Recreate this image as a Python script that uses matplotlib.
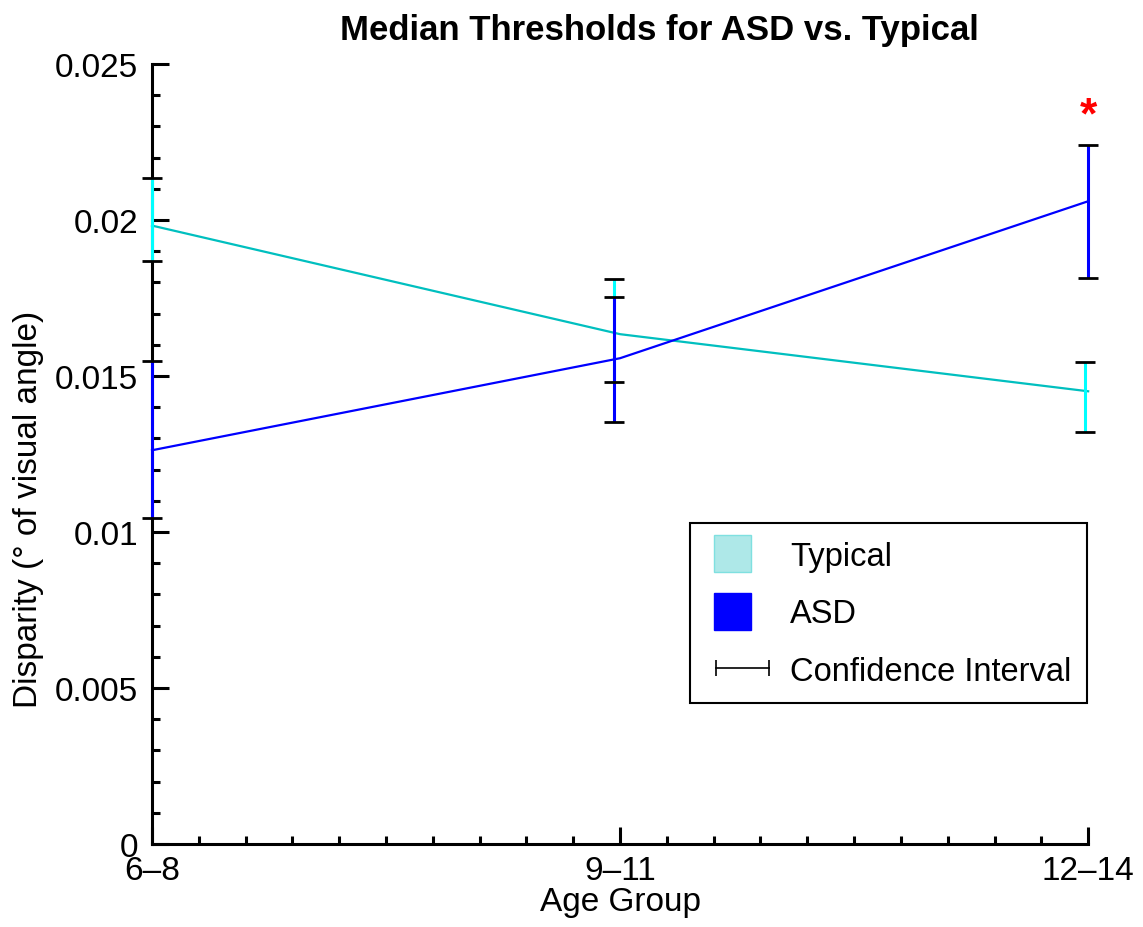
import matplotlib
matplotlib.use("Agg")
import matplotlib.pyplot as plt
import matplotlib.patches as mpatches
from matplotlib.lines import Line2D
from matplotlib.legend_handler import HandlerPatch
from matplotlib.ticker import MultipleLocator, FuncFormatter

plt.rcParams["font.family"] = ["Liberation Sans", "DejaVu Sans"]

# median thresholds per age group, with confidence interval bounds
groups = ["6–8", "9–11", "12–14"]
typical = [0.01982, 0.01634, 0.01451]
typical_lo = [0.01870, 0.01481, 0.01319]
typical_hi = [0.02134, 0.01811, 0.01545]
asd = [0.01262, 0.01557, 0.02060]
asd_lo = [0.01044, 0.01354, 0.01814]
asd_hi = [0.01547, 0.01754, 0.02239]
significant = [False, False, True]

x = [1, 2, 3]
# error bars are nudged a little so overlapping ones stay visible
typ_shift = [0.0, -0.014, -0.006]
asd_shift = [0.0, -0.014, 0.0]

line_cyan = "#00bfbf"
bar_cyan = "#00ffff"

fig = plt.figure(figsize=(11.43, 9.28), dpi=100)
ax = fig.add_axes([0.133, 0.0894, 0.819, 0.8406])

ax.plot(x, typical, color=line_cyan, lw=1.6, zorder=3, clip_on=False)
ax.plot(x, asd, color="blue", lw=1.6, zorder=3, clip_on=False)


def draw_ci(xs, lo, hi, color):
    ax.vlines(xs, lo, hi, color=color, lw=2.2, zorder=4, clip_on=False)
    ax.plot(xs, lo, "_", color="black", ms=14, mew=2, zorder=5, clip_on=False)
    ax.plot(xs, hi, "_", color="black", ms=14, mew=2, zorder=5, clip_on=False)


draw_ci([a + b for a, b in zip(x, typ_shift)], typical_lo, typical_hi, bar_cyan)
draw_ci([a + b for a, b in zip(x, asd_shift)], asd_lo, asd_hi, "blue")

for xi, hi, sig in zip(x, asd_hi, significant):
    if sig:
        ax.text(xi, hi + 0.00095, "*", color="red", fontsize=32, fontweight="bold",
                ha="center", va="center")

ax.set_xlim(1, 3)
ax.set_ylim(0, 0.025)
ax.set_xticks(x)
ax.set_xticklabels(groups)
ax.xaxis.set_minor_locator(MultipleLocator(0.1))
ax.yaxis.set_major_locator(MultipleLocator(0.005))
ax.yaxis.set_minor_locator(MultipleLocator(0.001))
ax.yaxis.set_major_formatter(FuncFormatter(lambda v, p: "0" if abs(v) < 1e-9 else f"{v:g}"))

for s in ["top", "right"]:
    ax.spines[s].set_visible(False)
for s in ["left", "bottom"]:
    ax.spines[s].set_linewidth(2.2)

ax.tick_params(which="major", direction="in", length=12, width=2.2, labelsize=24)
ax.tick_params(which="minor", direction="in", length=5.5, width=2.2)
ax.tick_params(axis="y", which="major", pad=10)
ax.tick_params(axis="x", which="major", pad=8)

ax.set_title("Median Thresholds for ASD vs. Typical", fontsize=25, fontweight="bold",
             x=0.542, pad=18)
ax.set_xlabel("Age Group", fontsize=24, labelpad=0)
ax.set_ylabel("Disparity (° of visual angle)", fontsize=24)
ax.yaxis.set_label_coords(-0.1154, 0.43)


def square_patch(legend, orig_handle, xdescent, ydescent, width, height, fontsize):
    s = 26.5
    return mpatches.Rectangle((-xdescent + 5.5, -ydescent + (height - s) / 2), s, s)


h_typ = mpatches.Patch(facecolor="#aee8e8", edgecolor="#7fe0e0", lw=1)
h_asd = mpatches.Patch(facecolor="blue", edgecolor="blue", lw=1)
h_ci = Line2D([0], [0], color="black", lw=1.2, marker="|", ms=12, mew=1.2)

leg = ax.legend([h_typ, h_asd, h_ci], ["Typical", "ASD", "Confidence Interval"],
                handler_map={mpatches.Patch: HandlerPatch(patch_func=square_patch)},
                loc="upper left", bbox_to_anchor=(0.575, 0.4115), fontsize=23.5,
                numpoints=2, handlelength=2.2, handleheight=0.95, handletextpad=0.35,
                labelspacing=0.78, borderpad=0.5, borderaxespad=0,
                fancybox=False, framealpha=1, edgecolor="black")
leg.get_frame().set_linewidth(1.5)

fig.savefig("out.png", dpi=100)
